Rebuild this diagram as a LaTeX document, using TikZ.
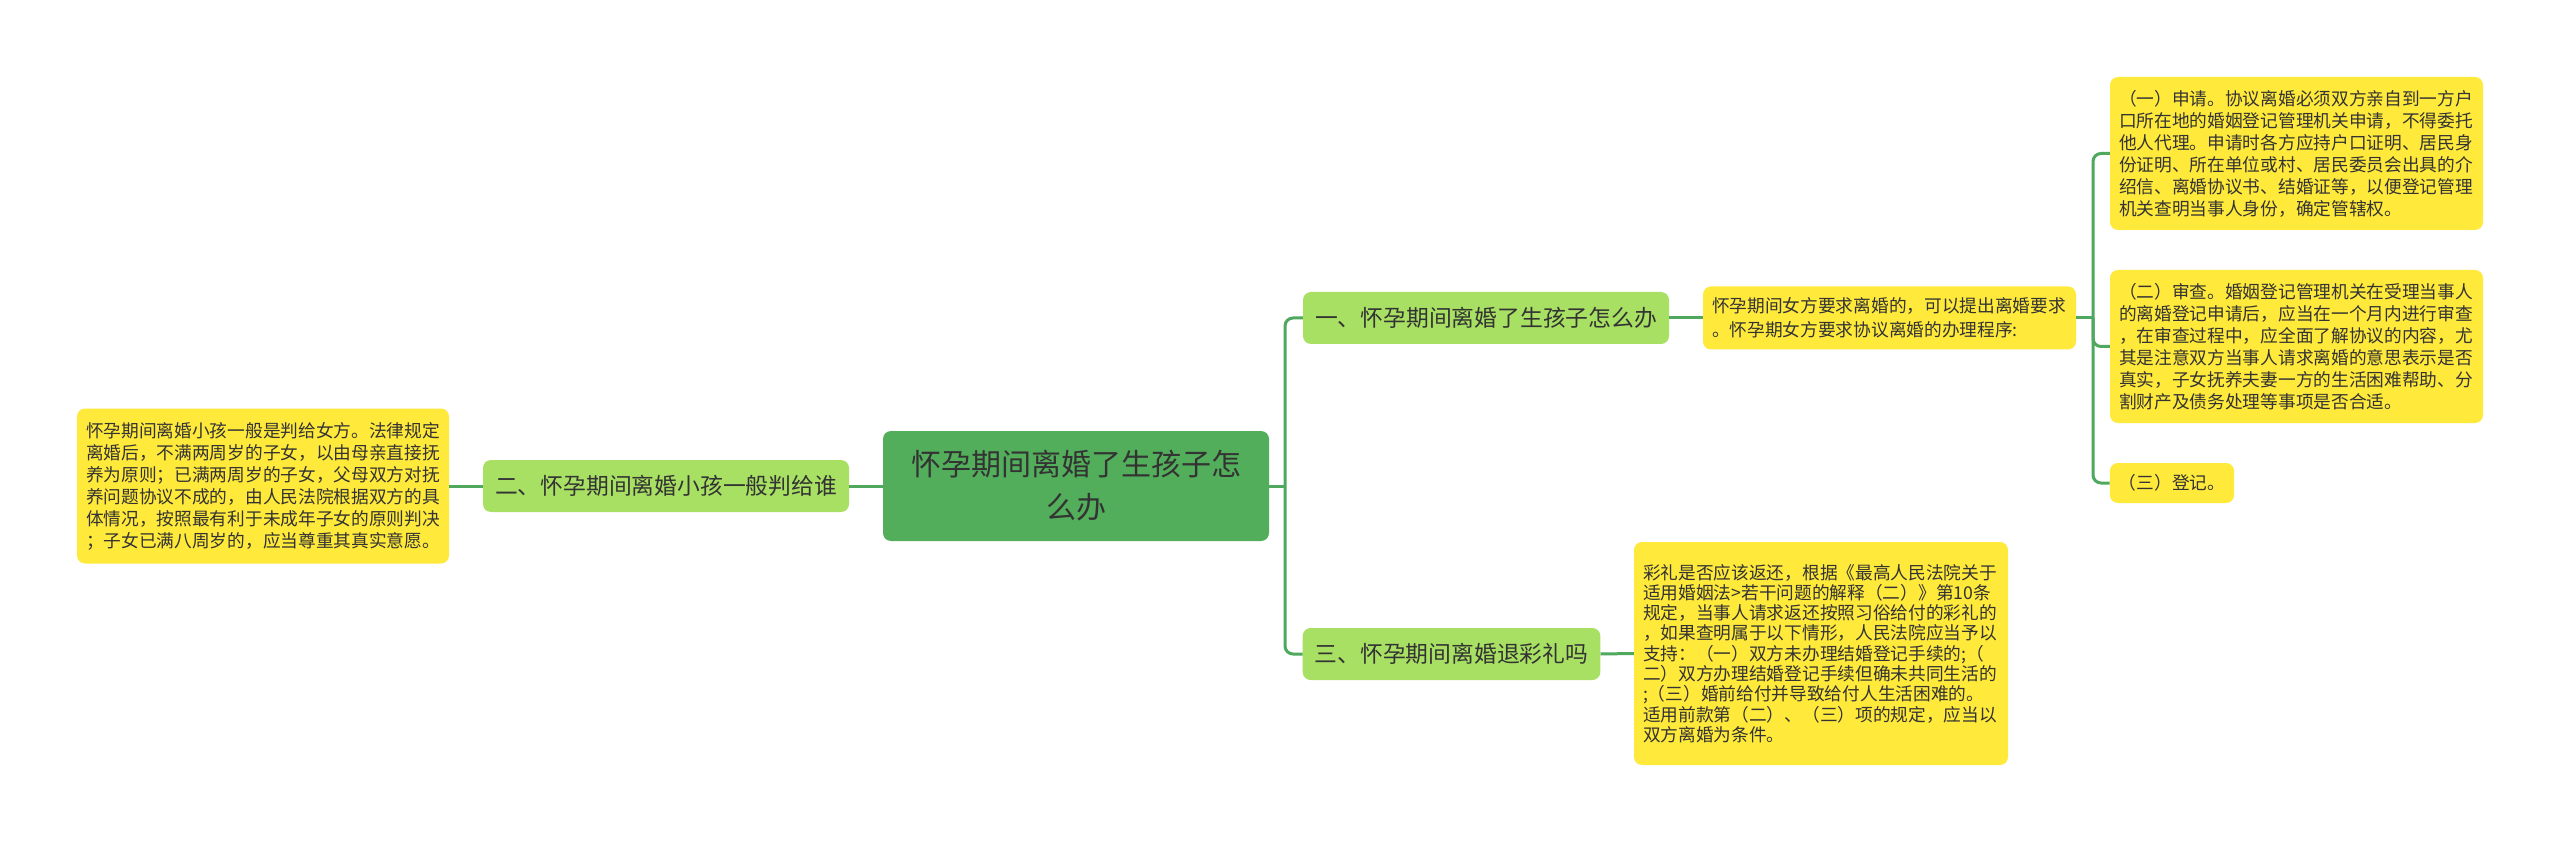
\documentclass[tikz,border=0pt]{standalone}
\usepackage{fontspec}
\setmainfont{Noto Sans CJK SC}
\definecolor{rootc}{HTML}{52AE5A}
\definecolor{branchc}{HTML}{A8E063}
\definecolor{leafc}{HTML}{FFE93B}
\definecolor{linec}{HTML}{4FA85E}
\definecolor{txt}{HTML}{333333}
\tikzset{
  rootbox/.style={fill=rootc, rounded corners=8pt, text=txt, minimum width=386pt, minimum height=110pt, text width=340pt, align=center, inner sep=0pt, font=\fontsize{30pt}{43pt}\selectfont},
  branchbox/.style={fill=branchc, rounded corners=8pt, text=txt, minimum height=52pt, inner xsep=12pt, inner ysep=0pt, font=\fontsize{22.8pt}{27pt}\selectfont},
  leafbox/.style={fill=leafc, rounded corners=8pt, text=txt, align=left, inner xsep=9pt, inner ysep=0pt, font=\fontsize{17.7pt}{22pt}\selectfont},
  conn/.style={draw=linec, line width=3pt, rounded corners=8pt}
}
\begin{document}
\begin{tikzpicture}[x=1pt,y=-1pt]
\useasboundingbox[fill=white] (0,0) rectangle (2560,842);
% nodes
\node[rootbox] (root) at (1076,486) {怀孕期间离婚了生孩子怎\\么办};
\node[branchbox] (b1) at (1486,318) {一、怀孕期间离婚了生孩子怎么办};
\node[branchbox] (b2) at (666,486) {二、怀孕期间离婚小孩一般判给谁};
\node[branchbox] (b3) at (1451.5,654) {三、怀孕期间离婚退彩礼吗};
\node[leafbox, text width=354pt, minimum height=155pt] (ll) at (263,486) {怀孕期间离婚小孩一般是判给女方。法律规定\\离婚后，不满两周岁的子女，以由母亲直接抚\\养为原则；已满两周岁的子女，父母双方对抚\\养问题协议不成的，由人民法院根据双方的具\\体情况，按照最有利于未成年子女的原则判决\\；子女已满八周岁的，应当尊重其真实意愿。};
\node[leafbox, text width=355pt, minimum height=63pt, font=\fontsize{17.7pt}{24pt}\selectfont] (m1) at (1889.5,318) {怀孕期间女方要求离婚的，可以提出离婚要求\\。怀孕期女方要求协议离婚的办理程序:};
\node[leafbox, text width=355pt, minimum height=153pt] (l1) at (2296.5,153.5) {（一）申请。协议离婚必须双方亲自到一方户\\口所在地的婚姻登记管理机关申请，不得委托\\他人代理。申请时各方应持户口证明、居民身\\份证明、所在单位或村、居民委员会出具的介\\绍信、离婚协议书、结婚证等，以便登记管理\\机关查明当事人身份，确定管辖权。};
\node[leafbox, text width=355pt, minimum height=153pt] (l2) at (2296.5,346.5) {（二）审查。婚姻登记管理机关在受理当事人\\的离婚登记申请后，应当在一个月内进行审查\\，在审查过程中，应全面了解协议的内容，尤\\其是注意双方当事人请求离婚的意思表示是否\\真实，子女抚养夫妻一方的生活困难帮助、分\\割财产及债务处理等事项是否合适。};
\node[leafbox, minimum height=40pt] (l3) at (2172,483) {（三）登记。};
\node[leafbox, text width=356pt, minimum height=223pt, font=\fontsize{17.7pt}{20.3pt}\selectfont] (m3) at (1821,653.5) {彩礼是否应该返还，根据《最高人民法院关于\\适用婚姻法>若干问题的解释（二）》第10条\\规定，当事人请求返还按照习俗给付的彩礼的\\，如果查明属于以下情形，人民法院应当予以\\支持：（一）双方未办理结婚登记手续的;（\\二）双方办理结婚登记手续但确未共同生活的\\;（三）婚前给付并导致给付人生活困难的。\\适用前款第（二）、（三）项的规定，应当以\\双方离婚为条件。};
% hubs
\coordinate (hub1) at (1285,486);
\coordinate (hub2) at (2093,318);
% connectors
\draw[conn] (root.east) -- (hub1);
\draw[conn] (hub1) |- (b1.west);
\draw[conn] (hub1) |- (b3.west);
\draw[conn] (root.west) -- (b2.east);
\draw[conn] (b2.west) -- (ll.east);
\draw[conn] (b1.east) -- (m1.west);
\draw[conn] (m1.east) -- (hub2);
\draw[conn] (hub2) |- (l1.west);
\draw[conn] (hub2) |- (l2.west);
\draw[conn] (hub2) |- (l3.west);
\draw[conn] (b3.east) -- (m3.west);
\end{tikzpicture}
\end{document}
